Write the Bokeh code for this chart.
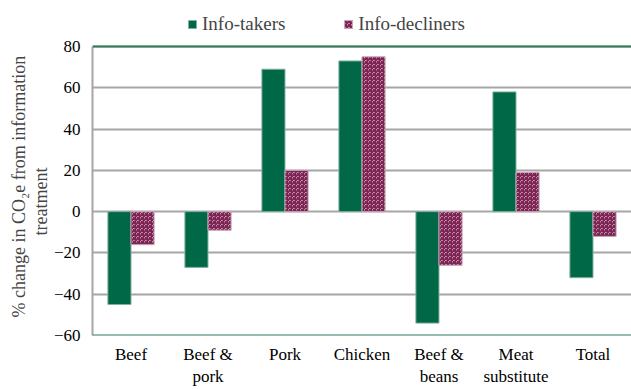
from bokeh.plotting import figure
from bokeh.models import FactorRange, Range1d, Span, Legend, LegendItem, ColumnDataSource, Title
from bokeh.transform import dodge
from bokeh.embed import file_html
from bokeh.resources import INLINE

categories = ["Beef", "Beef &\npork", "Pork", "Chicken", "Beef &\nbeans", "Meat\nsubstitute", "Total"]
info_takers = [-45, -27, 69, 73, -54, 58, -32]
info_decliners = [-16, -9, 20, 75, -26, 19, -12]
y_ticks = [-60, -40, -20, 0, 20, 40, 60, 80]
y_label_lines = ["% change in CO\u2082e from information", "treatment"]

GREEN = "#006747"
MAROON = "#7A1F4F"
FONT = "Liberation Serif"

# frame spans the whole top area so the legend can sit above the 80 line
Y_MIN, Y_MAX = -60, 80
y_top = Y_MAX + 46 * (Y_MAX - Y_MIN) / 289

src = ColumnDataSource(dict(cat=categories, takers=info_takers, decliners=info_decliners))

p = figure(x_range=FactorRange(*categories, range_padding=0), y_range=Range1d(Y_MIN, y_top),
           width=631, height=389, output_backend="svg", toolbar_location=None,
           min_border_left=92, min_border_right=0, min_border_top=0, min_border_bottom=54)
p.outline_line_color = None
p.background_fill_color = "white"
p.border_fill_color = "white"

r1 = p.vbar(x=dodge("cat", -0.15, range=p.x_range), top="takers", width=0.3, source=src,
            fill_color=GREEN, line_color="#7FB39E", line_width=1)
r2 = p.vbar(x=dodge("cat", 0.15, range=p.x_range), top="decliners", width=0.3, source=src,
            fill_color="white", line_color="#C9A3B6", line_width=1,
            hatch_pattern="criss_cross", hatch_color=MAROON, hatch_scale=4, hatch_weight=1.3)

for yv in (Y_MAX, Y_MIN):
    p.add_layout(Span(location=yv, dimension="width", line_color="#2E7D5B", line_width=2))

p.xgrid.grid_line_color = None
p.ygrid.grid_line_color = "#A6A6A6"
p.ygrid.grid_line_width = 2
p.yaxis.ticker = y_ticks
p.yaxis.bounds = (Y_MIN, Y_MAX)
p.yaxis.axis_line_color = "#A6A6A6"
p.yaxis.axis_line_width = 2
p.yaxis.major_tick_line_color = None
p.yaxis.minor_tick_line_color = None
p.yaxis.major_tick_out = 0
p.yaxis.major_tick_in = 0
p.yaxis.minor_tick_out = 0
p.yaxis.major_label_text_font = FONT
p.yaxis.major_label_text_font_size = "17px"
p.yaxis.major_label_text_color = "black"
p.yaxis.major_label_standoff = 12

label_offsets = [18, 100]
for line, off in reversed(list(zip(y_label_lines, label_offsets))):
    p.add_layout(Title(text=line, align="left", offset=off, text_font=FONT,
                       text_font_size="18px", text_font_style="normal", standoff=0), "left")

p.xaxis.axis_line_color = None
p.xaxis.major_tick_line_color = None
p.xaxis.minor_tick_line_color = None
p.xaxis.major_tick_out = 0
p.xaxis.major_tick_in = 0
p.xaxis.minor_tick_out = 0
p.xaxis.major_label_text_font = FONT
p.xaxis.major_label_text_font_size = "17px"
p.xaxis.major_label_text_color = "black"
p.xaxis.major_label_standoff = 9

legend = Legend(items=[LegendItem(label="Info-takers", renderers=[r1]),
                       LegendItem(label="Info-decliners", renderers=[r2])],
                orientation="horizontal", location=(95, 300))
legend.label_text_font = FONT
legend.label_text_font_size = "19px"
legend.glyph_width = 10
legend.glyph_height = 10
legend.label_standoff = 5
legend.spacing = 58
legend.padding = 4
legend.margin = 0
legend.border_line_color = None
legend.background_fill_alpha = 0
p.add_layout(legend, "center")

open("out.html", "w").write(file_html(p, INLINE))
